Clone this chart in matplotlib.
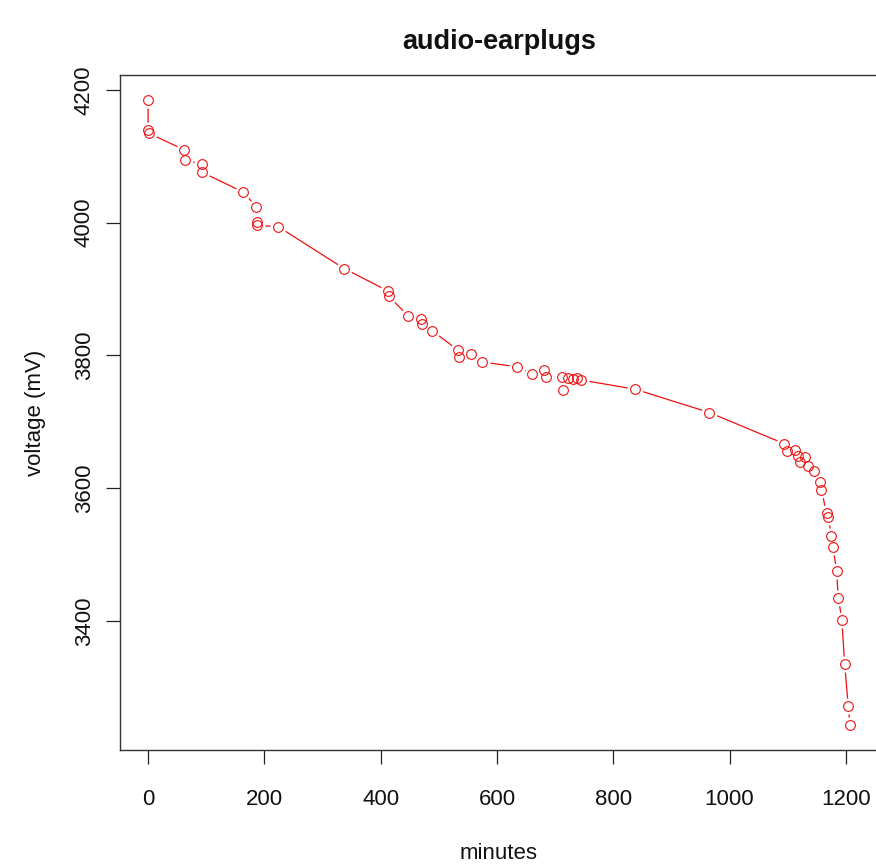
"""
plot.py

Battery discharge curve for the audio earplugs, drawn in the look of an
R base-graphics plot (type = "b": open circles joined by gapped lines).
"""

import matplotlib

matplotlib.use("Agg")
import matplotlib.pyplot as plt

# elapsed time since the charge finished
minutes = [
    0, 0, 1, 62, 63, 92, 93, 164, 186, 187, 188, 224, 337, 413, 414, 447,
    470, 471, 489, 533, 534, 556, 575, 634, 661, 681, 685, 712, 714, 722,
    730, 737, 745, 838, 965, 1094, 1098, 1112, 1118, 1121, 1129, 1135,
    1145, 1156, 1158, 1167, 1170, 1175, 1178, 1184, 1187, 1193, 1198,
    1204, 1207,
]
# measured cell voltage
voltage_mv = [
    4185, 4140, 4135, 4110, 4095, 4088, 4076, 4046, 4024, 4001, 3996, 3994,
    3931, 3897, 3889, 3860, 3855, 3847, 3837, 3808, 3797, 3802, 3790, 3783,
    3772, 3778, 3767, 3767, 3748, 3766, 3765, 3766, 3763, 3749, 3714, 3667,
    3656, 3657, 3649, 3639, 3647, 3634, 3626, 3609, 3597, 3562, 3556, 3528,
    3511, 3475, 3435, 3402, 3335, 3272, 3243,
]
x_ticks = [0, 200, 400, 600, 800, 1000, 1200]
y_ticks = [3400, 3600, 3800, 4000, 4200]

TITLE = "audio-earplugs"
RED = "#ee1111"

W, H = 876, 866
fig = plt.figure(figsize=(W / 100, H / 100), dpi=100)
plt.rcParams["font.family"] = ["Liberation Sans", "DejaVu Sans"]

# plot box in pixels: left 120, right 878 (runs off the canvas), top 75, bottom 750
ax = fig.add_axes([120 / W, (H - 750) / H, 758 / W, 675 / H])


def r_limits(values, frac=0.04):
    lo, hi = min(values), max(values)
    pad = (hi - lo) * frac
    return lo - pad, hi + pad


ax.set_xlim(*r_limits(minutes))
ax.set_ylim(*r_limits(voltage_mv))

# type = "b": line, then white discs to cut gaps, then the open circles
ax.plot(minutes, voltage_mv, color=RED, lw=0.9, zorder=1, clip_on=False)
ax.plot(minutes, voltage_mv, ls="none", marker="o", ms=11.5, mfc="white",
        mec="none", zorder=2, clip_on=False)
ax.plot(minutes, voltage_mv, ls="none", marker="o", ms=7.0, mfc="none",
        mec=RED, mew=0.8, zorder=3, clip_on=False)

ax.set_xticks(x_ticks)
ax.set_yticks(y_ticks)
ax.set_yticklabels([str(v) for v in y_ticks], rotation=90, va="center")
ax.tick_params(axis="both", direction="out", length=10, width=0.9,
               color="#222222", labelsize=16, labelcolor="#111111")
ax.tick_params(axis="x", pad=18)
ax.tick_params(axis="y", pad=8)
for side in ax.spines.values():
    side.set_linewidth(1.0)
    side.set_color("#333333")

ax.set_xlabel("minutes", fontsize=16, labelpad=24, color="#111111")
ax.set_ylabel("voltage (mV)", fontsize=16, labelpad=20, color="#111111")
fig.text(499 / W, 1 - 42 / H, TITLE, ha="center", va="center",
         fontsize=19.5, fontweight="bold", color="#111111")

fig.savefig("out.png", dpi=100)
